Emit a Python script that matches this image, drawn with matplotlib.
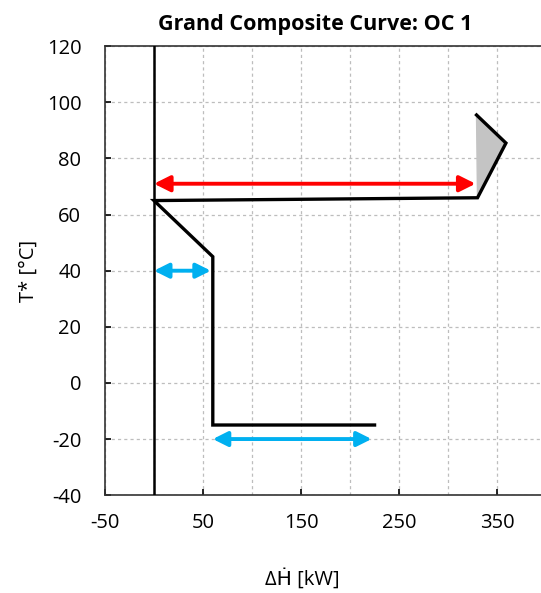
import matplotlib.pyplot as plt

plt.rcParams['font.family'] = ['Open Sans', 'DejaVu Sans']
plt.rcParams['axes.unicode_minus'] = False
plt.rcParams['xtick.direction'] = 'in'
plt.rcParams['ytick.direction'] = 'in'

# grand composite curve points
gcc_x = [225, 60, 60, 0, 330, 359, 329]
gcc_y = [-15, -15, 45, 65, 66, 85.5, 95.5]

# pocket (shaded)
pocket_x = [330, 359, 329]
pocket_y = [66, 85.5, 95.5]

# arrows: (x0, x1, y)
hot_arrow = (0, 328, 71)
cold_arrows = [(0, 58, 40), (60, 222, -20)]

xticks = [-50, 50, 150, 250, 350]
xminor = [0, 100, 200, 300]
yticks = list(range(-40, 121, 20))

fig = plt.figure(figsize=(5.41, 5.93), dpi=100)
ax = fig.add_axes([0.194, 0.165, 0.83, 0.757])

ax.grid(True, which='both', linestyle=(0, (2.5, 2.5)), color='#bdbdbd', linewidth=0.9)
ax.set_axisbelow(True)

ax.fill(pocket_x, pocket_y, color='#c4c4c4', zorder=2)
ax.axvline(0, color='black', linewidth=1.8, zorder=3)
ax.plot(gcc_x, gcc_y, color='black', linewidth=2.4, zorder=4, solid_joinstyle='miter')

ax.annotate('', xy=(hot_arrow[1], hot_arrow[2]), xytext=(hot_arrow[0], hot_arrow[2]),
            arrowprops=dict(arrowstyle='<|-|>', color='#ff0000', lw=2.8, mutation_scale=24,
                            shrinkA=0, shrinkB=0), zorder=5)
for x0, x1, y in cold_arrows:
    ax.annotate('', xy=(x1, y), xytext=(x0, y),
                arrowprops=dict(arrowstyle='<|-|>', color='#00b0f0', lw=2.8, mutation_scale=22,
                                shrinkA=0, shrinkB=0), zorder=5)

ax.set_xlim(-50, 408)
ax.set_ylim(-40, 120)
ax.set_xticks(xticks)
ax.set_xticks(xminor, minor=True)
ax.set_yticks(yticks)
ax.tick_params(which='major', direction='in', labelsize=14.5, length=4, width=1.2)
ax.tick_params(axis='x', which='major', pad=13)
ax.tick_params(axis='y', which='major', pad=17)
ax.tick_params(which='minor', length=0)
for s in ax.spines.values():
    s.set_linewidth(1.2)
    s.set_color('#333333')

ax.set_title('Grand Composite Curve: OC 1', fontsize=15.5, fontweight='bold', pad=12, x=0.468)
ax.set_xlabel('ΔḢ [kW]', fontsize=14.5, labelpad=26, x=0.44)
ax.set_ylabel('T* [°C]', fontsize=14.5, labelpad=6)

fig.savefig('out.png', dpi=100)
